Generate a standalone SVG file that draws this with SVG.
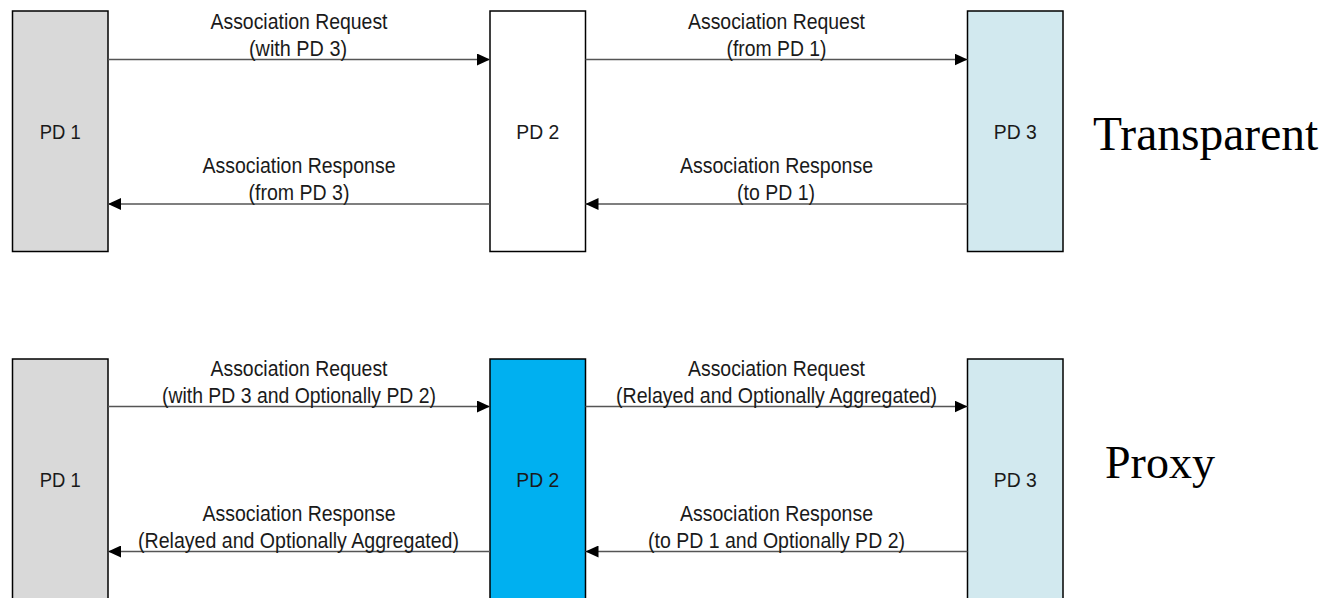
<svg xmlns="http://www.w3.org/2000/svg" width="1332" height="598" viewBox="0 0 1332 598">
  <defs>
    <marker id="arrow" viewBox="0 0 13 12" refX="13" refY="6" markerWidth="13" markerHeight="12" markerUnits="userSpaceOnUse" orient="auto">
      <path d="M0,0 L13,6 L0,12 Z" fill="#000"/>
    </marker>
    <style>
      .box { stroke: #000; stroke-width: 1.5; }
      .pd { font-family: "Liberation Sans Narrow", "Liberation Sans", sans-serif; font-size: 20px; fill: #1a1a1a; text-anchor: middle; }
      .lbl { font-family: "Liberation Sans Narrow", "Liberation Sans", sans-serif; font-size: 22px; fill: #1a1a1a; text-anchor: middle; }
      .title { font-family: "Liberation Serif", "Times New Roman", serif; fill: #000; }
      .conn { stroke: #555; stroke-width: 1.4; fill: none; marker-end: url(#arrow); }
    </style>
  </defs>

  <!-- Transparent -->
  <g id="t-pd1">
    <rect class="box" x="12.5" y="11" width="95.5" height="240.5" fill="#d9d9d9"/>
    <text class="pd" x="60.25" y="139" textLength="41" lengthAdjust="spacingAndGlyphs">PD 1</text>
  </g>
  <g id="t-pd2">
    <rect class="box" x="490" y="11" width="95.5" height="240.5" fill="#ffffff"/>
    <text class="pd" x="537.75" y="139" textLength="43" lengthAdjust="spacingAndGlyphs">PD 2</text>
  </g>
  <g id="t-pd3">
    <rect class="box" x="967.5" y="11" width="95.5" height="240.5" fill="#d2e9ef"/>
    <text class="pd" x="1015.25" y="139" textLength="43" lengthAdjust="spacingAndGlyphs">PD 3</text>
  </g>
  <g id="t-title">
    <text class="title" x="1093" y="150" font-size="47.5">Transparent</text>
  </g>

  <!-- Proxy -->
  <g id="p-pd1">
    <rect class="box" x="12.5" y="359" width="95.5" height="260" fill="#d9d9d9"/>
    <text class="pd" x="60.25" y="487" textLength="41" lengthAdjust="spacingAndGlyphs">PD 1</text>
  </g>
  <g id="p-pd2">
    <rect class="box" x="490" y="359" width="95.5" height="260" fill="#00b0f0"/>
    <text class="pd" x="537.75" y="487" textLength="43" lengthAdjust="spacingAndGlyphs">PD 2</text>
  </g>
  <g id="p-pd3">
    <rect class="box" x="967.5" y="359" width="95.5" height="260" fill="#d2e9ef"/>
    <text class="pd" x="1015.25" y="487" textLength="43" lengthAdjust="spacingAndGlyphs">PD 3</text>
  </g>
  <g id="p-title">
    <text class="title" x="1105" y="478" font-size="46">Proxy</text>
  </g>

  <g id="connectors">
    <line class="conn" x1="108" y1="59.5" x2="490" y2="59.5"/>
    <line class="conn" x1="585.5" y1="59.5" x2="967.5" y2="59.5"/>
    <line class="conn" x1="490" y1="204" x2="108" y2="204"/>
    <line class="conn" x1="967.5" y1="204" x2="585.5" y2="204"/>
    <line class="conn" x1="108" y1="406.5" x2="490" y2="406.5"/>
    <line class="conn" x1="585.5" y1="406.5" x2="967.5" y2="406.5"/>
    <line class="conn" x1="490" y1="551.5" x2="108" y2="551.5"/>
    <line class="conn" x1="967.5" y1="551.5" x2="585.5" y2="551.5"/>
  </g>

  <g id="labels">
    <text class="lbl" x="299" y="28.5" textLength="177" lengthAdjust="spacingAndGlyphs">Association Request</text>
    <text class="lbl" x="298" y="55.5" textLength="98" lengthAdjust="spacingAndGlyphs">(with PD 3)</text>
    <text class="lbl" x="776.5" y="28.5" textLength="177" lengthAdjust="spacingAndGlyphs">Association Request</text>
    <text class="lbl" x="776.5" y="55.5" textLength="100" lengthAdjust="spacingAndGlyphs">(from PD 1)</text>
    <text class="lbl" x="299" y="173" textLength="193" lengthAdjust="spacingAndGlyphs">Association Response</text>
    <text class="lbl" x="299" y="200" textLength="101" lengthAdjust="spacingAndGlyphs">(from PD 3)</text>
    <text class="lbl" x="776.5" y="173" textLength="193" lengthAdjust="spacingAndGlyphs">Association Response</text>
    <text class="lbl" x="776" y="200" textLength="78" lengthAdjust="spacingAndGlyphs">(to PD 1)</text>

    <text class="lbl" x="299" y="375.5" textLength="177" lengthAdjust="spacingAndGlyphs">Association Request</text>
    <text class="lbl" x="299" y="402.5" textLength="274" lengthAdjust="spacingAndGlyphs">(with PD 3 and Optionally PD 2)</text>
    <text class="lbl" x="776.5" y="375.5" textLength="177" lengthAdjust="spacingAndGlyphs">Association Request</text>
    <text class="lbl" x="776.5" y="402.5" textLength="321" lengthAdjust="spacingAndGlyphs">(Relayed and Optionally Aggregated)</text>
    <text class="lbl" x="299" y="520.5" textLength="193" lengthAdjust="spacingAndGlyphs">Association Response</text>
    <text class="lbl" x="298.5" y="547.5" textLength="321" lengthAdjust="spacingAndGlyphs">(Relayed and Optionally Aggregated)</text>
    <text class="lbl" x="776.5" y="520.5" textLength="193" lengthAdjust="spacingAndGlyphs">Association Response</text>
    <text class="lbl" x="776.5" y="547.5" textLength="257" lengthAdjust="spacingAndGlyphs">(to PD 1 and Optionally PD 2)</text>
  </g>
</svg>
